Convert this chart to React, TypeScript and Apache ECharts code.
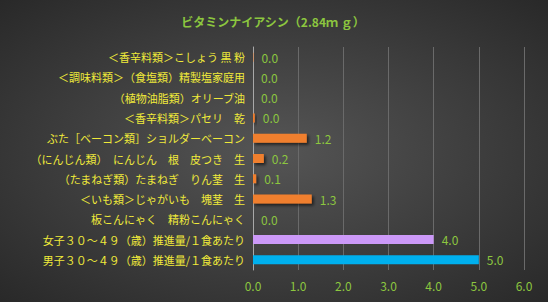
import React, { useEffect, useRef } from "react";
import * as echarts from "echarts";

const titleText = "ビタミンナイアシン（2.84ｍ ｇ）";
const categories = [
  "＜香辛料類＞こしょう 黒 粉",
  "＜調味料類＞（食塩類）精製塩家庭用",
  "（植物油脂類）オリーブ油",
  "＜香辛料類＞パセリ　乾",
  "ぶた［ベーコン類］ショルダーベーコン",
  "（にんじん類）　にんじん　根　皮つき　生",
  "（たまねぎ類）たまねぎ　りん茎　生",
  "＜いも類＞じゃがいも　塊茎　生",
  "板こんにゃく　精粉こんにゃく",
  "女子３０～４９（歳）推進量/１食あたり",
  "男子３０～４９（歳）推進量/１食あたり",
];
const values = [0.01, 0.0, 0.0, 0.04, 1.19, 0.24, 0.07, 1.3, 0.0, 4.0, 5.0];
const barColors = [
  "#F07F2E", "#F07F2E", "#F07F2E", "#F07F2E", "#F07F2E", "#F07F2E",
  "#F07F2E", "#F07F2E", "#F07F2E", "#CC99F8", "#00B0EE",
];
const xTicks = { min: 0, max: 6, interval: 1 };

export default function App() {
  const ref = useRef<HTMLDivElement>(null);
  useEffect(() => {
    document.body.style.margin = "0";
    if (!ref.current) return;
    const chart = echarts.init(ref.current, undefined, { renderer: "svg" });
    chart.setOption({
      animation: false,
      backgroundColor: {
        type: "radial",
        x: 0.5,
        y: 0.5,
        r: 0.75,
        colorStops: [
          { offset: 0, color: "#555555" },
          { offset: 1, color: "#262626" },
        ],
      },
      title: {
        text: titleText,
        left: 268,
        textAlign: "center",
        top: 10,
        textStyle: {
          color: "#8CC63F",
          fontSize: 12,
          fontWeight: "bold",
          fontFamily: "Noto Sans CJK JP",
        },
      },
      grid: { left: 253, right: 24, top: 47, bottom: 32, containLabel: false },
      xAxis: {
        type: "value",
        min: xTicks.min,
        max: xTicks.max,
        interval: xTicks.interval,
        axisLine: { show: false },
        axisTick: { show: false },
        splitLine: { lineStyle: { color: "#6a6a6a", width: 1 } },
        axisLabel: {
          color: "#8CC63F",
          fontSize: 12,
          fontFamily: "Noto Sans CJK JP",
          margin: 9,
          formatter: (v: number) => v.toFixed(1),
        },
      },
      yAxis: {
        type: "category",
        data: categories,
        inverse: true,
        axisLine: { show: true, lineStyle: { color: "#a8a8a8", width: 1 } },
        axisTick: { show: false },
        axisLabel: {
          color: "#F0EA3A",
          fontSize: 11,
          fontFamily: "Noto Sans CJK JP",
          margin: 8,
        },
      },
      series: [
        {
          type: "bar",
          data: values.map((v, i) => ({
            value: v,
            itemStyle: {
              color: barColors[i],
              shadowColor: i < 9 ? "rgba(0,0,0,0.6)" : "transparent",
              shadowBlur: i < 9 ? 3 : 0,
              shadowOffsetX: i < 9 ? 2 : 0,
              shadowOffsetY: i < 9 ? 2 : 0,
            },
          })),
          barWidth: 9,
          label: {
            show: true,
            position: "right",
            distance: 8,
            color: "#8CC63F",
            fontSize: 12,
            fontFamily: "Noto Sans CJK JP",
            formatter: (p: any) => Number(p.value).toFixed(1),
          },
        },
      ],
    });
    return () => chart.dispose();
  }, []);
  return <div ref={ref} style={{ width: 548, height: 302 }} />;
}
